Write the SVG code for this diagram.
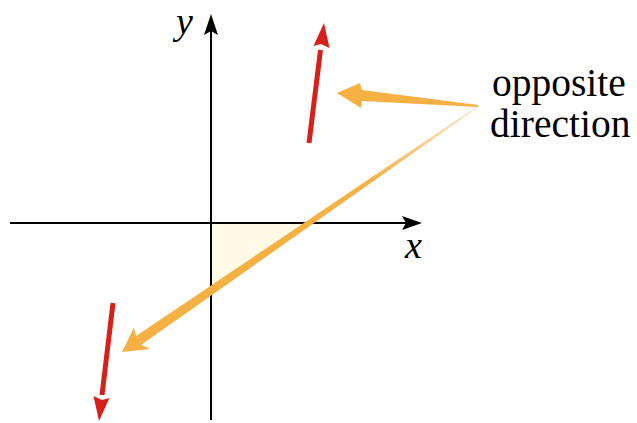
<svg xmlns="http://www.w3.org/2000/svg" width="637" height="423" viewBox="0 0 637 423">
  <style>
    .axis { stroke: #000; stroke-width: 2; fill: none; }
    .head { fill: #000; }
    .red { fill: #d8201b; }
    .redline { stroke: #d8201b; stroke-width: 5; stroke-linecap: butt; }
    .orange { fill: #f6b144; }
    .lbl { font-family: "Liberation Serif", "Times New Roman", serif; fill: #000; }
  </style>
  <defs>
    <linearGradient id="fade" gradientUnits="userSpaceOnUse" x1="122" y1="352" x2="478" y2="107">
      <stop offset="0" stop-color="#f6b144" stop-opacity="1"/>
      <stop offset="0.7" stop-color="#f6b144" stop-opacity="1"/>
      <stop offset="1" stop-color="#f6b144" stop-opacity="0.25"/>
    </linearGradient>
  </defs>
  <rect width="637" height="423" fill="#fff"/>
  <g id="highlight">
    <polygon points="212,224 313,224 212,290" fill="#fffbe6"/>
  </g>
  <g id="axes">
    <line class="axis" x1="10" y1="223" x2="408" y2="223"/>
    <polygon class="head" points="422,223 402,216 406,223 402,230"/>
    <line class="axis" x1="211" y1="420" x2="211" y2="30"/>
    <polygon class="head" points="211,14 204,35 211,31 218,35"/>
    <text class="lbl" x="405" y="258" font-size="38" font-style="italic">x</text>
    <text class="lbl" x="176" y="34" font-size="38" font-style="italic">y</text>
  </g>
  <g id="vector-up">
    <line class="redline" x1="309" y1="143" x2="320.5" y2="50"/>
    <polygon class="red" points="324,23 329.5,48 321,44 313.5,46"/>
  </g>
  <g id="vector-down">
    <line class="redline" x1="113" y1="303" x2="102" y2="395"/>
    <polygon class="red" points="99,421 93.5,396 102,400 109.5,398"/>
  </g>
  <g id="connectors">
    <polygon class="orange" points="337,93 360,83 362,90 478,105 478,107 362,101 361,108"/>
    <polygon fill="url(#fade)" points="122,352 134,327.5 136,336 477.5,106 478,107.5 141.3,344.7 150,349"/>
  </g>
  <g id="label">
    <text class="lbl" x="492" y="96" font-size="39.5">opposite</text>
    <text class="lbl" x="490" y="137" font-size="39.5">direction</text>
  </g>
</svg>
